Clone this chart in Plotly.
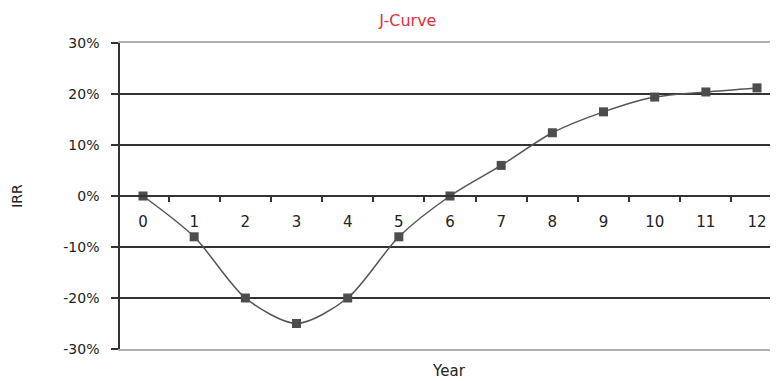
import plotly.graph_objects as go

years = list(range(13))
year_labels = [str(y) for y in years]
irr = [0, -8, -20, -25, -20, -8, 0, 6, 12.4, 16.5, 19.4, 20.4, 21.2]
y_ticks = [-30, -20, -10, 0, 10, 20, 30]
y_tick_labels = ["-30%", "-20%", "-10%", "0%", "10%", "20%", "30%"]
grid_vals = [-20, -10, 10, 20]

FONT = "DejaVu Sans, Verdana, sans-serif"
fig = go.Figure()
fig.add_trace(go.Scatter(
    x=years, y=irr, mode="lines+markers",
    line=dict(color="#555555", width=1.5, shape="spline", smoothing=0.8),
    marker=dict(symbol="square", size=9, color="#4d4d4d"),
    showlegend=False, xaxis="x", yaxis="y",
))
# invisible trace to carry the frame axis (top/bottom light lines)
fig.add_trace(go.Scatter(x=[years[0]], y=[irr[0]], mode="markers",
                         marker=dict(opacity=0), showlegend=False,
                         xaxis="x2", yaxis="y", hoverinfo="skip"))

fig.update_layout(
    width=778, height=381,
    margin=dict(l=112, r=8, t=35, b=40),
    paper_bgcolor="white", plot_bgcolor="white",
    font=dict(family=FONT, color="#222222", size=14),
    title=dict(text="J-Curve", x=0.514, xanchor="center", y=0.968, yanchor="middle",
               font=dict(color="#e8303a", size=16, family=FONT)),
    xaxis=dict(
        range=[-0.45, 12.41], tickvals=years, ticktext=year_labels,
        anchor="free", position=0.5, showline=True, linecolor="#333333", linewidth=1.5,
        showgrid=False, zeroline=False, ticks="", ticklabelstandoff=12,
        tickfont=dict(size=15),
        minor=dict(tickvals=[v + 0.5 for v in years[:-1]], ticks="outside",
                   ticklen=5, tickcolor="#333333", tickwidth=1.5, showgrid=False),
    ),
    xaxis2=dict(
        range=[-0.45, 12.41], overlaying="x", anchor="y", side="bottom",
        showline=True, mirror=True, linecolor="#b0b0b0", linewidth=1.5,
        showticklabels=False, showgrid=False, zeroline=False, ticks="",
        title=dict(text="Year", font=dict(size=15), standoff=16),
    ),
    yaxis=dict(
        range=[-30, 30], tickvals=y_ticks, ticktext=y_tick_labels,
        showline=True, linecolor="#333333", linewidth=1.5,
        ticks="outside", ticklen=7, tickcolor="#333333", tickwidth=1.5,
        showgrid=False, zeroline=False, tickfont=dict(size=14), ticklabelstandoff=9,
        title=dict(text="IRR", font=dict(size=14), standoff=37),
        minor=dict(tickvals=grid_vals, showgrid=True, gridcolor="#333333",
                   gridwidth=1.5, ticks=""),
    ),
)
fig.write_html("out.html")
